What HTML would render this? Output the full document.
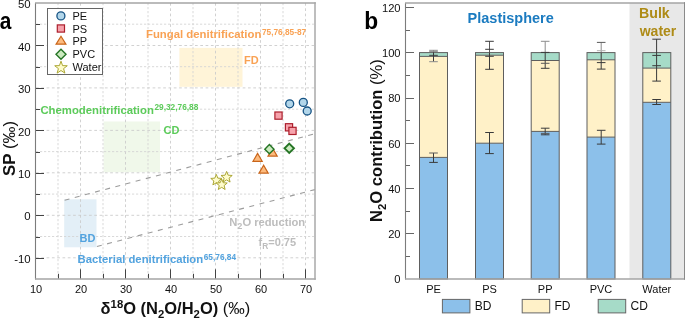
<!DOCTYPE html>
<html><head><meta charset="utf-8"><style>
html,body{margin:0;padding:0;background:#fff;width:685px;height:318px;overflow:hidden;}
svg{display:block;font-family:"Liberation Sans",sans-serif;will-change:transform;}
</style></head><body>
<svg width="685" height="318" viewBox="0 0 685 318"><rect x="179.4" y="47.9" width="63.1" height="38.9" fill="#FFF4D8"/>
<rect x="103.6" y="121.5" width="56.4" height="50.7" fill="#F0F8EA"/>
<rect x="64.2" y="199.3" width="32.3" height="48" fill="#E3EFF7"/>
<line x1="58.0" y1="3" x2="58.0" y2="279" stroke="#d5d5d5" stroke-width="0.9" stroke-dasharray="2.2,1.8"/>
<line x1="80.5" y1="3" x2="80.5" y2="279" stroke="#cccccc" stroke-width="0.9" stroke-dasharray="2.7,2.6"/>
<line x1="103.0" y1="3" x2="103.0" y2="279" stroke="#d5d5d5" stroke-width="0.9" stroke-dasharray="2.2,1.8"/>
<line x1="125.5" y1="3" x2="125.5" y2="279" stroke="#cccccc" stroke-width="0.9" stroke-dasharray="2.7,2.6"/>
<line x1="148.0" y1="3" x2="148.0" y2="279" stroke="#d5d5d5" stroke-width="0.9" stroke-dasharray="2.2,1.8"/>
<line x1="170.5" y1="3" x2="170.5" y2="279" stroke="#cccccc" stroke-width="0.9" stroke-dasharray="2.7,2.6"/>
<line x1="193.0" y1="3" x2="193.0" y2="279" stroke="#d5d5d5" stroke-width="0.9" stroke-dasharray="2.2,1.8"/>
<line x1="215.5" y1="3" x2="215.5" y2="279" stroke="#cccccc" stroke-width="0.9" stroke-dasharray="2.7,2.6"/>
<line x1="238.0" y1="3" x2="238.0" y2="279" stroke="#d5d5d5" stroke-width="0.9" stroke-dasharray="2.2,1.8"/>
<line x1="260.5" y1="3" x2="260.5" y2="279" stroke="#cccccc" stroke-width="0.9" stroke-dasharray="2.7,2.6"/>
<line x1="283.0" y1="3" x2="283.0" y2="279" stroke="#d5d5d5" stroke-width="0.9" stroke-dasharray="2.2,1.8"/>
<line x1="305.5" y1="3" x2="305.5" y2="279" stroke="#cccccc" stroke-width="0.9" stroke-dasharray="2.7,2.6"/>
<line x1="36" y1="257.8" x2="314" y2="257.8" stroke="#cccccc" stroke-width="0.9" stroke-dasharray="2.7,2.6"/>
<line x1="36" y1="236.5" x2="314" y2="236.5" stroke="#d5d5d5" stroke-width="0.9" stroke-dasharray="2.2,1.8"/>
<line x1="36" y1="215.3" x2="314" y2="215.3" stroke="#cccccc" stroke-width="0.9" stroke-dasharray="2.7,2.6"/>
<line x1="36" y1="194.1" x2="314" y2="194.1" stroke="#d5d5d5" stroke-width="0.9" stroke-dasharray="2.2,1.8"/>
<line x1="36" y1="172.8" x2="314" y2="172.8" stroke="#cccccc" stroke-width="0.9" stroke-dasharray="2.7,2.6"/>
<line x1="36" y1="151.6" x2="314" y2="151.6" stroke="#d5d5d5" stroke-width="0.9" stroke-dasharray="2.2,1.8"/>
<line x1="36" y1="130.4" x2="314" y2="130.4" stroke="#cccccc" stroke-width="0.9" stroke-dasharray="2.7,2.6"/>
<line x1="36" y1="109.2" x2="314" y2="109.2" stroke="#d5d5d5" stroke-width="0.9" stroke-dasharray="2.2,1.8"/>
<line x1="36" y1="87.9" x2="314" y2="87.9" stroke="#cccccc" stroke-width="0.9" stroke-dasharray="2.7,2.6"/>
<line x1="36" y1="66.7" x2="314" y2="66.7" stroke="#d5d5d5" stroke-width="0.9" stroke-dasharray="2.2,1.8"/>
<line x1="36" y1="45.5" x2="314" y2="45.5" stroke="#cccccc" stroke-width="0.9" stroke-dasharray="2.7,2.6"/>
<line x1="36" y1="24.2" x2="314" y2="24.2" stroke="#d5d5d5" stroke-width="0.9" stroke-dasharray="2.2,1.8"/>
<line x1="64.6" y1="200.2" x2="315" y2="133.7" stroke="#9c9c9c" stroke-width="1.1" stroke-dasharray="5,5.5"/>
<line x1="96.9" y1="246.5" x2="315" y2="189.6" stroke="#9c9c9c" stroke-width="1.1" stroke-dasharray="5,5.5"/>
<line x1="35.5" y1="3" x2="35.5" y2="279.5" stroke="#7c7c7c" stroke-width="1.1"/>
<line x1="35" y1="279" x2="315.8" y2="279" stroke="#a4a4a4" stroke-width="1.5"/>
<line x1="35" y1="3" x2="315.8" y2="3" stroke="#a4a4a4" stroke-width="1.6"/>
<line x1="315" y1="2.2" x2="315" y2="279.7" stroke="#a8a8a8" stroke-width="1.5"/>
<line x1="36" y1="258.5" x2="44" y2="258.5" stroke="#444" stroke-width="1"/>
<line x1="36" y1="237.5" x2="40" y2="237.5" stroke="#444" stroke-width="1"/>
<line x1="36" y1="215.5" x2="44" y2="215.5" stroke="#444" stroke-width="1"/>
<line x1="36" y1="194.5" x2="40" y2="194.5" stroke="#444" stroke-width="1"/>
<line x1="36" y1="173.5" x2="44" y2="173.5" stroke="#444" stroke-width="1"/>
<line x1="36" y1="152.5" x2="40" y2="152.5" stroke="#444" stroke-width="1"/>
<line x1="36" y1="130.5" x2="44" y2="130.5" stroke="#444" stroke-width="1"/>
<line x1="36" y1="109.5" x2="40" y2="109.5" stroke="#444" stroke-width="1"/>
<line x1="36" y1="88.5" x2="44" y2="88.5" stroke="#444" stroke-width="1"/>
<line x1="36" y1="67.5" x2="40" y2="67.5" stroke="#444" stroke-width="1"/>
<line x1="36" y1="45.5" x2="44" y2="45.5" stroke="#444" stroke-width="1"/>
<line x1="36" y1="24.5" x2="40" y2="24.5" stroke="#444" stroke-width="1"/>
<line x1="58.5" y1="278.3" x2="58.5" y2="273.8" stroke="#444" stroke-width="1"/>
<line x1="80.5" y1="278.3" x2="80.5" y2="269.3" stroke="#444" stroke-width="1"/>
<line x1="103.5" y1="278.3" x2="103.5" y2="273.8" stroke="#444" stroke-width="1"/>
<line x1="125.5" y1="278.3" x2="125.5" y2="269.3" stroke="#444" stroke-width="1"/>
<line x1="148.5" y1="278.3" x2="148.5" y2="273.8" stroke="#444" stroke-width="1"/>
<line x1="170.5" y1="278.3" x2="170.5" y2="269.3" stroke="#444" stroke-width="1"/>
<line x1="193.5" y1="278.3" x2="193.5" y2="273.8" stroke="#444" stroke-width="1"/>
<line x1="215.5" y1="278.3" x2="215.5" y2="269.3" stroke="#444" stroke-width="1"/>
<line x1="238.5" y1="278.3" x2="238.5" y2="273.8" stroke="#444" stroke-width="1"/>
<line x1="260.5" y1="278.3" x2="260.5" y2="269.3" stroke="#444" stroke-width="1"/>
<line x1="283.5" y1="278.3" x2="283.5" y2="273.8" stroke="#444" stroke-width="1"/>
<line x1="305.5" y1="278.3" x2="305.5" y2="269.3" stroke="#444" stroke-width="1"/>
<g font-family="Liberation Sans, sans-serif" fill="#111"><text x="30.6" y="262.9" text-anchor="end" font-size="11.4">-10</text>
<text x="30.6" y="220.4" text-anchor="end" font-size="11.4">0</text>
<text x="30.6" y="177.9" text-anchor="end" font-size="11.4">10</text>
<text x="30.6" y="135.5" text-anchor="end" font-size="11.4">20</text>
<text x="30.6" y="93.0" text-anchor="end" font-size="11.4">30</text>
<text x="30.6" y="50.6" text-anchor="end" font-size="11.4">40</text>
<text x="30.6" y="8.1" text-anchor="end" font-size="11.4">50</text>
<text x="36.0" y="293.3" text-anchor="middle" font-size="11">10</text>
<text x="81.0" y="293.3" text-anchor="middle" font-size="11">20</text>
<text x="126.0" y="293.3" text-anchor="middle" font-size="11">30</text>
<text x="171.0" y="293.3" text-anchor="middle" font-size="11">40</text>
<text x="216.0" y="293.3" text-anchor="middle" font-size="11">50</text>
<text x="261.0" y="293.3" text-anchor="middle" font-size="11">60</text>
<text x="306.0" y="293.3" text-anchor="middle" font-size="11">70</text></g>
<g font-family="Liberation Sans, sans-serif" font-weight="bold">
<text x="146" y="38.2" font-size="11.35" fill="#F9A254">Fungal denitrification<tspan font-size="8.3" dx="0.6" dy="-3.7">75,76,85-87</tspan></text>
<text x="244" y="63.7" font-size="11" fill="#F9A254">FD</text>
<text x="40.4" y="113.9" font-size="11.35" fill="#5CCB5A">Chemodenitrification<tspan font-size="8.3" dx="0.6" dy="-3.7">29,32,76,88</tspan></text>
<text x="163.6" y="133.9" font-size="11" fill="#5CCB5A">CD</text>
<text x="79.6" y="241.5" font-size="11" fill="#52A3DF">BD</text>
<text x="77.6" y="263.3" font-size="11.3" fill="#52A3DF">Bacterial denitrification<tspan font-size="8.3" dx="0.6" dy="-3.7">65,76,84</tspan></text>
<text x="229.2" y="225.8" font-size="11.2" fill="#BDBDBD">N<tspan font-size="8.6" dx="0.3" dy="3.4">2</tspan><tspan dy="-3.4">O reduction</tspan></text>
<text x="258.5" y="245.9" font-size="11" fill="#BDBDBD">f<tspan font-size="8.4" dy="3.3">R</tspan><tspan dy="-3.3">=0.75</tspan></text>
</g>
<circle cx="289.7" cy="103.8" r="4" fill="#B2D6EA" stroke="#165384" stroke-width="1.3"/>
<circle cx="303.3" cy="102.4" r="4" fill="#B2D6EA" stroke="#165384" stroke-width="1.3"/>
<circle cx="307.2" cy="111" r="4" fill="#B2D6EA" stroke="#165384" stroke-width="1.3"/>
<rect x="274.9" y="112.0" width="7.2" height="7.2" fill="#F6A3AC" stroke="#AC1E2C" stroke-width="1.2"/>
<rect x="285.4" y="123.7" width="7.2" height="7.2" fill="#F6A3AC" stroke="#AC1E2C" stroke-width="1.2"/>
<rect x="288.9" y="127.30000000000001" width="7.2" height="7.2" fill="#F6A3AC" stroke="#AC1E2C" stroke-width="1.2"/>
<polygon points="257.6,153.4 253.00000000000003,161.3 262.2,161.3" fill="#FDBB7E" stroke="#C9651A" stroke-width="1.2" stroke-linejoin="miter"/>
<polygon points="263.6,165.2 259.00000000000006,173.1 268.2,173.1" fill="#FDBB7E" stroke="#C9651A" stroke-width="1.2" stroke-linejoin="miter"/>
<polygon points="272.6,148.2 268.00000000000006,156.1 277.2,156.1" fill="#FDBB7E" stroke="#C9651A" stroke-width="1.2" stroke-linejoin="miter"/>
<polygon points="269.4,144.6 274.0,149.2 269.4,153.79999999999998 264.79999999999995,149.2" fill="#CBEABF" stroke="#247424" stroke-width="1.4"/>
<polygon points="289.25,143.60000000000002 293.95,148.3 289.25,153.0 284.55,148.3" fill="#CBEABF" stroke="#247424" stroke-width="1.9"/>
<polygon points="216.30,174.40 217.80,178.14 221.82,178.41 218.73,180.99 219.71,184.89 216.30,182.75 212.89,184.89 213.87,180.99 210.78,178.41 214.80,178.14" fill="#FEFCCB" stroke="#A8A22C" stroke-width="0.95" stroke-linejoin="miter"/>
<polygon points="226.60,171.40 228.13,175.20 232.21,175.48 229.07,178.10 230.07,182.07 226.60,179.90 223.13,182.07 224.13,178.10 220.99,175.48 225.07,175.20" fill="#FEFCCB" stroke="#A8A22C" stroke-width="0.95" stroke-linejoin="miter"/>
<polygon points="221.70,179.00 223.20,182.74 227.22,183.01 224.13,185.59 225.11,189.49 221.70,187.35 218.29,189.49 219.27,185.59 216.18,183.01 220.20,182.74" fill="#FEFCCB" stroke="#A8A22C" stroke-width="0.95" stroke-linejoin="miter"/>
<rect x="47.5" y="8.5" width="55" height="66" fill="#fff" stroke="#666" stroke-width="1"/>
<circle cx="60.9" cy="15.9" r="4" fill="#B2D6EA" stroke="#165384" stroke-width="1.3"/>
<rect x="57.3" y="24.9" width="7.2" height="7.2" fill="#F6A3AC" stroke="#AC1E2C" stroke-width="1.2"/>
<polygon points="61,36.300000000000004 56.1,44.2 65.9,44.2" fill="#FDBB7E" stroke="#C9651A" stroke-width="1.2" stroke-linejoin="miter"/>
<polygon points="61,49.3 66,54.3 61,59.3 56,54.3" fill="#CBEABF" stroke="#247424" stroke-width="1.4"/>
<polygon points="61.00,61.20 62.59,65.62 67.28,65.76 63.57,68.63 64.88,73.14 61.00,70.50 57.12,73.14 58.43,68.63 54.72,65.76 59.41,65.62" fill="#FEFCCB" stroke="#A8A22C" stroke-width="0.95" stroke-linejoin="miter"/>
<g font-family="Liberation Sans, sans-serif" font-size="11" fill="#111">
<text x="72.5" y="19.6">PE</text>
<text x="72.5" y="32.5">PS</text>
<text x="72.5" y="45.4">PP</text>
<text x="72.5" y="58.3">PVC</text>
<text x="72.5" y="71.2">Water</text>
</g>
<text transform="translate(100.6,314.2) scale(1.03,1)" font-family="Liberation Sans, sans-serif" font-size="16" font-weight="bold" fill="#111">δ<tspan font-size="11" dy="-6.4">18</tspan><tspan dy="6.4">O (N</tspan><tspan font-size="11" dy="4.2">2</tspan><tspan dy="-4.2">O/H</tspan><tspan font-size="11" dy="4.2">2</tspan><tspan dy="-4.2">O) </tspan><tspan font-weight="normal">(‰)</tspan></text>
<text transform="translate(15.2,176) rotate(-90) scale(1.057,1)" font-family="Liberation Sans, sans-serif" font-size="16" font-weight="bold" fill="#111">SP <tspan font-weight="normal">(‰)</tspan></text>
<text transform="translate(-0.2,28.6) scale(0.87,1)" font-family="Liberation Sans, sans-serif" font-size="24" font-weight="bold" fill="#000">a</text>
<text transform="translate(364.2,28.6) scale(0.95,1)" font-family="Liberation Sans, sans-serif" font-size="24" font-weight="bold" fill="#000">b</text>
<rect x="629.5" y="3" width="55" height="276" fill="#E8E8E8"/>
<rect x="419.5" y="157.4" width="28" height="121.6" fill="#8CC0EA"/>
<rect x="419.5" y="56.4" width="28" height="101.0" fill="#FFF1C8"/>
<rect x="419.5" y="52.6" width="28" height="3.799999999999997" fill="#A6DBC8"/>
<rect x="419.5" y="52.6" width="28" height="226.4" fill="none" stroke="#5e5e5e" stroke-width="1"/>
<line x1="419.5" y1="157.4" x2="447.5" y2="157.4" stroke="#5e5e5e" stroke-width="1"/>
<line x1="419.5" y1="56.4" x2="447.5" y2="56.4" stroke="#5e5e5e" stroke-width="1"/>
<rect x="475.5" y="143.2" width="28" height="135.8" fill="#8CC0EA"/>
<rect x="475.5" y="55.2" width="28" height="87.99999999999999" fill="#FFF1C8"/>
<rect x="475.5" y="52.6" width="28" height="2.6000000000000014" fill="#A6DBC8"/>
<rect x="475.5" y="52.6" width="28" height="226.4" fill="none" stroke="#5e5e5e" stroke-width="1"/>
<line x1="475.5" y1="143.2" x2="503.5" y2="143.2" stroke="#5e5e5e" stroke-width="1"/>
<line x1="475.5" y1="55.2" x2="503.5" y2="55.2" stroke="#5e5e5e" stroke-width="1"/>
<rect x="531.2" y="131.4" width="28" height="147.6" fill="#8CC0EA"/>
<rect x="531.2" y="60.5" width="28" height="70.9" fill="#FFF1C8"/>
<rect x="531.2" y="52.6" width="28" height="7.899999999999999" fill="#A6DBC8"/>
<rect x="531.2" y="52.6" width="28" height="226.4" fill="none" stroke="#5e5e5e" stroke-width="1"/>
<line x1="531.2" y1="131.4" x2="559.2" y2="131.4" stroke="#5e5e5e" stroke-width="1"/>
<line x1="531.2" y1="60.5" x2="559.2" y2="60.5" stroke="#5e5e5e" stroke-width="1"/>
<rect x="587.0" y="137.1" width="28" height="141.9" fill="#8CC0EA"/>
<rect x="587.0" y="59.8" width="28" height="77.3" fill="#FFF1C8"/>
<rect x="587.0" y="52.6" width="28" height="7.199999999999996" fill="#A6DBC8"/>
<rect x="587.0" y="52.6" width="28" height="226.4" fill="none" stroke="#5e5e5e" stroke-width="1"/>
<line x1="587.0" y1="137.1" x2="615.0" y2="137.1" stroke="#5e5e5e" stroke-width="1"/>
<line x1="587.0" y1="59.8" x2="615.0" y2="59.8" stroke="#5e5e5e" stroke-width="1"/>
<rect x="642.8" y="102.3" width="28" height="176.7" fill="#8CC0EA"/>
<rect x="642.8" y="68.1" width="28" height="34.2" fill="#FFF1C8"/>
<rect x="642.8" y="52.6" width="28" height="15.499999999999993" fill="#A6DBC8"/>
<rect x="642.8" y="52.6" width="28" height="226.4" fill="none" stroke="#5e5e5e" stroke-width="1"/>
<line x1="642.8" y1="102.3" x2="670.8" y2="102.3" stroke="#5e5e5e" stroke-width="1"/>
<line x1="642.8" y1="68.1" x2="670.8" y2="68.1" stroke="#5e5e5e" stroke-width="1"/>
<line x1="433.5" y1="50" x2="433.5" y2="52.3" stroke="#8c8c8c" stroke-width="1"/>
<line x1="433.5" y1="52.3" x2="433.5" y2="61.7" stroke="#3a3a3a" stroke-width="1"/>
<line x1="433.5" y1="153" x2="433.5" y2="162.4" stroke="#3a3a3a" stroke-width="1"/>
<line x1="429.2" y1="50.3" x2="437.8" y2="50.3" stroke="#8c8c8c" stroke-width="1"/>
<line x1="429.2" y1="51.4" x2="437.8" y2="51.4" stroke="#8c8c8c" stroke-width="1"/>
<line x1="429.2" y1="55.3" x2="437.8" y2="55.3" stroke="#3a3a3a" stroke-width="1"/>
<line x1="429.2" y1="61.7" x2="437.8" y2="61.7" stroke="#8c8c8c" stroke-width="1"/>
<line x1="429.2" y1="153" x2="437.8" y2="153" stroke="#5a5a5a" stroke-width="1"/>
<line x1="429.2" y1="162.4" x2="437.8" y2="162.4" stroke="#3a3a3a" stroke-width="1"/>
<line x1="489.5" y1="41.3" x2="489.5" y2="52.5" stroke="#5a5a5a" stroke-width="1"/>
<line x1="489.5" y1="52.5" x2="489.5" y2="69.3" stroke="#3a3a3a" stroke-width="1"/>
<line x1="489.5" y1="132.5" x2="489.5" y2="153.6" stroke="#3a3a3a" stroke-width="1"/>
<line x1="485.2" y1="41.3" x2="493.8" y2="41.3" stroke="#3a3a3a" stroke-width="1"/>
<line x1="485.2" y1="49.3" x2="493.8" y2="49.3" stroke="#3a3a3a" stroke-width="1"/>
<line x1="485.2" y1="56.3" x2="493.8" y2="56.3" stroke="#3a3a3a" stroke-width="1"/>
<line x1="485.2" y1="69.3" x2="493.8" y2="69.3" stroke="#3a3a3a" stroke-width="1"/>
<line x1="485.2" y1="132.5" x2="493.8" y2="132.5" stroke="#3a3a3a" stroke-width="1"/>
<line x1="485.2" y1="153.6" x2="493.8" y2="153.6" stroke="#3a3a3a" stroke-width="1"/>
<line x1="545.2" y1="41.3" x2="545.2" y2="52.5" stroke="#8c8c8c" stroke-width="1"/>
<line x1="545.2" y1="52.5" x2="545.2" y2="68.3" stroke="#3a3a3a" stroke-width="1"/>
<line x1="545.2" y1="128.2" x2="545.2" y2="134.8" stroke="#3a3a3a" stroke-width="1"/>
<line x1="540.9000000000001" y1="41.3" x2="549.5" y2="41.3" stroke="#8c8c8c" stroke-width="1"/>
<line x1="540.9000000000001" y1="52.4" x2="549.5" y2="52.4" stroke="#3a3a3a" stroke-width="1"/>
<line x1="540.9000000000001" y1="63.3" x2="549.5" y2="63.3" stroke="#5a5a5a" stroke-width="1"/>
<line x1="540.9000000000001" y1="68.3" x2="549.5" y2="68.3" stroke="#3a3a3a" stroke-width="1"/>
<line x1="540.9000000000001" y1="128.2" x2="549.5" y2="128.2" stroke="#3a3a3a" stroke-width="1"/>
<line x1="540.9000000000001" y1="133.4" x2="549.5" y2="133.4" stroke="#5a5a5a" stroke-width="1"/>
<line x1="540.9000000000001" y1="134.8" x2="549.5" y2="134.8" stroke="#3a3a3a" stroke-width="1"/>
<line x1="601.2" y1="42.4" x2="601.2" y2="52.5" stroke="#8c8c8c" stroke-width="1"/>
<line x1="601.2" y1="52.5" x2="601.2" y2="69.1" stroke="#3a3a3a" stroke-width="1"/>
<line x1="601.2" y1="130.3" x2="601.2" y2="144.1" stroke="#3a3a3a" stroke-width="1"/>
<line x1="596.9000000000001" y1="42.4" x2="605.5" y2="42.4" stroke="#5a5a5a" stroke-width="1"/>
<line x1="596.9000000000001" y1="50.7" x2="605.5" y2="50.7" stroke="#b0b0b0" stroke-width="1"/>
<line x1="596.9000000000001" y1="62.6" x2="605.5" y2="62.6" stroke="#3a3a3a" stroke-width="1"/>
<line x1="596.9000000000001" y1="69.1" x2="605.5" y2="69.1" stroke="#3a3a3a" stroke-width="1"/>
<line x1="596.9000000000001" y1="130.3" x2="605.5" y2="130.3" stroke="#3a3a3a" stroke-width="1"/>
<line x1="596.9000000000001" y1="144.1" x2="605.5" y2="144.1" stroke="#3a3a3a" stroke-width="1"/>
<line x1="656.6" y1="39.2" x2="656.6" y2="81.1" stroke="#3a3a3a" stroke-width="1"/>
<line x1="656.6" y1="99.5" x2="656.6" y2="104.5" stroke="#3a3a3a" stroke-width="1"/>
<line x1="652.3000000000001" y1="39.2" x2="660.9" y2="39.2" stroke="#3a3a3a" stroke-width="1"/>
<line x1="652.3000000000001" y1="55.4" x2="660.9" y2="55.4" stroke="#3a3a3a" stroke-width="1"/>
<line x1="652.3000000000001" y1="65.7" x2="660.9" y2="65.7" stroke="#3a3a3a" stroke-width="1"/>
<line x1="652.3000000000001" y1="81.1" x2="660.9" y2="81.1" stroke="#3a3a3a" stroke-width="1"/>
<line x1="652.3000000000001" y1="99.5" x2="660.9" y2="99.5" stroke="#3a3a3a" stroke-width="1"/>
<line x1="652.3000000000001" y1="104.5" x2="660.9" y2="104.5" stroke="#3a3a3a" stroke-width="1"/>
<line x1="405.5" y1="3" x2="405.5" y2="279.5" stroke="#7c7c7c" stroke-width="1.1"/>
<line x1="405" y1="279" x2="685" y2="279" stroke="#a4a4a4" stroke-width="1.5"/>
<line x1="405" y1="3" x2="685" y2="3" stroke="#a4a4a4" stroke-width="1.6"/>
<line x1="684.5" y1="2.2" x2="684.5" y2="279.7" stroke="#8a8a8a" stroke-width="1"/>
<line x1="406" y1="256.5" x2="410" y2="256.5" stroke="#666" stroke-width="1"/>
<line x1="406" y1="233.5" x2="414" y2="233.5" stroke="#666" stroke-width="1"/>
<line x1="406" y1="211.5" x2="410" y2="211.5" stroke="#666" stroke-width="1"/>
<line x1="406" y1="188.5" x2="414" y2="188.5" stroke="#666" stroke-width="1"/>
<line x1="406" y1="165.5" x2="410" y2="165.5" stroke="#666" stroke-width="1"/>
<line x1="406" y1="143.5" x2="414" y2="143.5" stroke="#666" stroke-width="1"/>
<line x1="406" y1="120.5" x2="410" y2="120.5" stroke="#666" stroke-width="1"/>
<line x1="406" y1="98.5" x2="414" y2="98.5" stroke="#666" stroke-width="1"/>
<line x1="406" y1="75.5" x2="410" y2="75.5" stroke="#666" stroke-width="1"/>
<line x1="406" y1="52.5" x2="414" y2="52.5" stroke="#666" stroke-width="1"/>
<line x1="406" y1="30.5" x2="410" y2="30.5" stroke="#666" stroke-width="1"/>
<line x1="406" y1="7.5" x2="414" y2="7.5" stroke="#666" stroke-width="1"/>
<g font-family="Liberation Sans, sans-serif" fill="#111"><text x="400.6" y="283.3" text-anchor="end" font-size="11.2">0</text>
<text x="400.6" y="238.1" text-anchor="end" font-size="11.2">20</text>
<text x="400.6" y="192.8" text-anchor="end" font-size="11.2">40</text>
<text x="400.6" y="147.6" text-anchor="end" font-size="11.2">60</text>
<text x="400.6" y="102.3" text-anchor="end" font-size="11.2">80</text>
<text x="400.6" y="57.0" text-anchor="end" font-size="11.2">100</text>
<text x="400.6" y="11.8" text-anchor="end" font-size="11.2">120</text>
<text x="433.5" y="292.7" text-anchor="middle" font-size="11">PE</text>
<text x="489.5" y="292.7" text-anchor="middle" font-size="11">PS</text>
<text x="545.2" y="292.7" text-anchor="middle" font-size="11">PP</text>
<text x="601.0" y="292.7" text-anchor="middle" font-size="11">PVC</text>
<text x="656.8" y="292.7" text-anchor="middle" font-size="11">Water</text></g>
<text x="467.6" y="22.6" font-family="Liberation Sans, sans-serif" font-size="14.5" font-weight="bold" fill="#1B7BC0">Plastisphere</text>
<text x="654.4" y="17.5" font-family="Liberation Sans, sans-serif" font-size="14.2" font-weight="bold" fill="#AE8B16" text-anchor="middle">Bulk</text>
<text x="658" y="36" font-family="Liberation Sans, sans-serif" font-size="14" font-weight="bold" fill="#AE8B16" text-anchor="middle">water</text>
<text transform="translate(382,140.6) rotate(-90) scale(1.036,1)" text-anchor="middle" font-family="Liberation Sans, sans-serif" font-size="16" font-weight="bold" fill="#111">N<tspan font-size="11" dy="4.2">2</tspan><tspan dy="-4.2">O contribution </tspan><tspan font-weight="normal">(%)</tspan></text>
<rect x="442.4" y="299.4" width="27.5" height="13.5" fill="#8CC0EA" stroke="#666" stroke-width="1"/>
<text x="474.7" y="310.3" font-family="Liberation Sans, sans-serif" font-size="12" fill="#111">BD</text>
<rect x="522.2" y="299.4" width="27.5" height="13.5" fill="#FFF1C8" stroke="#666" stroke-width="1"/>
<text x="554.5" y="310.3" font-family="Liberation Sans, sans-serif" font-size="12" fill="#111">FD</text>
<rect x="598.2" y="299.4" width="27.5" height="13.5" fill="#A6DBC8" stroke="#666" stroke-width="1"/>
<text x="630.5" y="310.3" font-family="Liberation Sans, sans-serif" font-size="12" fill="#111">CD</text></svg>
</body></html>
